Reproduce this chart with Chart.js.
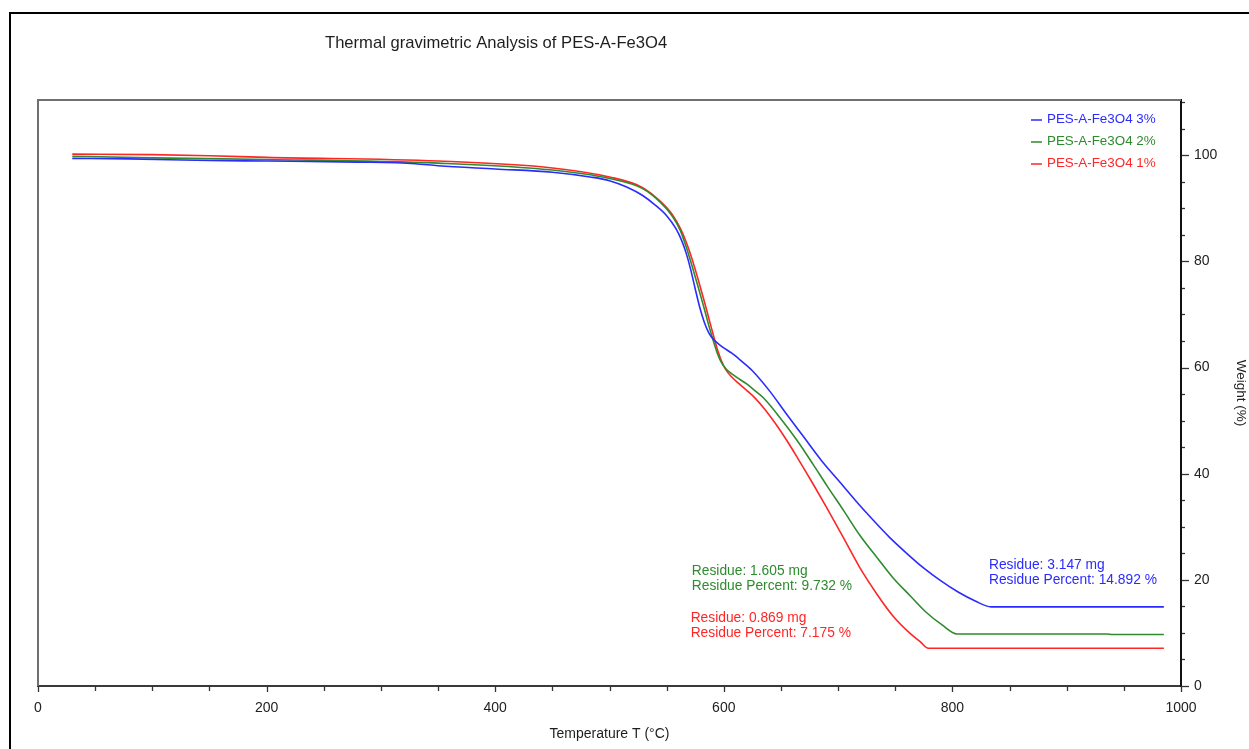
<!DOCTYPE html>
<html>
<head>
<meta charset="utf-8">
<script src="https://cdn.jsdelivr.net/npm/chart.js@4.4.1/dist/chart.umd.min.js"></script>
<style>
  html, body { margin: 0; padding: 0; background: #fff; }
  #wrap { width: 1249px; height: 749px; position: relative; }
</style>
</head>
<body>
<div id="wrap"><canvas id="tga"></canvas></div>
<script>
// --- Data ---
const tempBlue = [30, 80, 150, 200, 280, 330, 350, 400, 450, 483, 500, 515, 529, 540, 550, 558, 563, 567, 571, 575, 579, 583, 587, 591, 595, 600, 607, 615, 625, 640, 655, 670, 685, 700, 715, 730, 745, 760, 775, 790, 805, 820, 834, 900, 985];
const weightBlue = [99.4, 99.3, 99.0, 98.9, 98.7, 98.4, 98.0, 97.4, 96.8, 95.9, 95.2, 94.0, 92.4, 90.6, 88.6, 86.2, 84.0, 81.6, 78.5, 74.8, 71.3, 68.5, 66.5, 65.3, 64.5, 63.7, 62.7, 61.3, 59.4, 55.6, 51.2, 46.9, 42.6, 38.8, 35.0, 31.4, 28.0, 25.0, 22.2, 19.8, 17.7, 16.0, 14.9, 14.9, 14.9];

const tempGreen = [30, 100, 200, 350, 450, 500, 529, 545, 555, 562, 567, 572, 577, 582, 586, 590, 594, 598, 602, 607, 613, 620, 628, 635, 649, 664, 678, 690, 705, 719, 734, 748, 763, 777, 791, 804, 935, 940, 985];
const weightGreen = [99.8, 99.5, 99.2, 98.5, 97.2, 95.6, 93.7, 91.0, 88.5, 85.8, 82.8, 79.3, 75.6, 71.8, 68.6, 65.6, 62.9, 60.9, 59.7, 58.8, 57.9, 56.9, 55.5, 54.2, 50.6, 46.3, 41.8, 37.8, 33.0, 28.4, 24.2, 20.4, 17.0, 13.9, 11.5, 9.8, 9.8, 9.7, 9.7];

const tempRed = [30, 100, 150, 200, 350, 450, 500, 529, 545, 555, 562, 567, 572, 577, 582, 587, 591, 595, 598, 602, 607, 613, 620, 628, 636, 645, 655, 665, 678, 690, 705, 719, 734, 748, 763, 772, 779, 985];
const weightRed = [100.2, 100.1, 99.9, 99.6, 98.9, 97.6, 95.9, 93.9, 91.2, 88.8, 86.2, 83.7, 80.6, 77.0, 73.2, 69.2, 66.0, 63.0, 61.2, 59.5, 58.2, 57.0, 55.7, 54.1, 52.1, 49.5, 46.3, 42.8, 38.1, 33.6, 27.8, 22.3, 17.3, 13.2, 9.9, 8.3, 7.1, 7.1];

const seriesNames = ['PES-A-Fe3O4 3%', 'PES-A-Fe3O4 2%', 'PES-A-Fe3O4 1%'];
const seriesColors = ['#2b2bff', '#2e8b2e', '#ff2626'];

// residue notes: [series index, anchor temp, anchor weight, line1, line2]
const residueNotes = [
    [0, 832, 22.8, 'Residue: 3.147 mg', 'Residue Percent: 14.892 %'],
    [1, 572, 21.6, 'Residue: 1.605 mg', 'Residue Percent: 9.732 %'],
    [2, 571, 12.8, 'Residue: 0.869 mg', 'Residue Percent: 7.175 %']
];

const xMajorStep = 200;
const yMajorStep = 20;

const FONT = '"Liberation Sans", Arial, sans-serif';

function toPoints(xs, ys) {
    return xs.map((x, i) => ({ x: x, y: ys[i] }));
}

// --- Decorations: frame, title, ticks, legend, residue notes ---
const decorPlugin = {
    id: 'decor',
    afterDraw(chart) {
        const ctx = chart.ctx;
        const area = chart.chartArea;
        const xs = chart.scales.x;
        const ys = chart.scales.y;
        ctx.save();

        // outer box (runs off the right/bottom of the picture)
        ctx.strokeStyle = '#000';
        ctx.lineWidth = 2;
        ctx.beginPath();
        ctx.moveTo(10, 760);
        ctx.lineTo(10, 13);
        ctx.lineTo(1260, 13);
        ctx.stroke();

        // plot frame top + left
        ctx.strokeStyle = '#6f6f6f';
        ctx.lineWidth = 2;
        ctx.beginPath();
        ctx.moveTo(area.left, area.bottom);
        ctx.lineTo(area.left, area.top);
        ctx.lineTo(area.right, area.top);
        ctx.stroke();

        // title
        ctx.fillStyle = '#1e1e1e';
        ctx.font = '16.6px ' + FONT;
        ctx.textBaseline = 'middle';
        ctx.textAlign = 'left';
        ctx.fillText('Thermal gravimetric Analysis of PES-A-Fe3O4', 325, 43);

        // x ticks (every 50)
        ctx.strokeStyle = '#333';
        ctx.lineWidth = 1.3;
        for (let v = 0; v <= 1000; v += 50) {
            const px = Math.round(xs.getPixelForValue(v)) + 0.5;
            ctx.beginPath();
            ctx.moveTo(px, area.bottom);
            ctx.lineTo(px, area.bottom + (v % xMajorStep === 0 ? 6 : 5));
            ctx.stroke();
        }
        // y ticks (major dash every 20, small minor every 5)
        for (let v = 0; v <= 110; v += 5) {
            const py = Math.round(ys.getPixelForValue(v)) + 0.5;
            const major = v % yMajorStep === 0;
            ctx.beginPath();
            ctx.moveTo(area.right + 1, py);
            ctx.lineTo(area.right + (major ? 8 : 4), py);
            ctx.stroke();
        }

        // legend, top right inside plot
        ctx.font = '13.4px ' + FONT;
        chart.data.datasets.forEach((ds, i) => {
            const y = area.top + 19 + i * 22;
            ctx.strokeStyle = ds.borderColor;
            ctx.lineWidth = 1.5;
            ctx.beginPath();
            ctx.moveTo(area.right - 150, y + 1);
            ctx.lineTo(area.right - 139, y + 1);
            ctx.stroke();
            ctx.fillStyle = ds.borderColor;
            ctx.fillText(ds.label, area.right - 134, y);
        });

        // residue notes
        ctx.font = '13.8px ' + FONT;
        residueNotes.forEach(n => {
            const px = xs.getPixelForValue(n[1]);
            const py = ys.getPixelForValue(n[2]);
            ctx.fillStyle = seriesColors[n[0]];
            ctx.fillText(n[3], px, py);
            ctx.fillText(n[4], px, py + 15);
        });

        ctx.restore();
    }
};

const ctx = document.getElementById('tga').getContext('2d');

const tgaChart = new Chart(ctx, {
    type: 'line',
    data: {
        datasets: [
            { label: seriesNames[0], data: toPoints(tempBlue, weightBlue), borderColor: seriesColors[0] },
            { label: seriesNames[1], data: toPoints(tempGreen, weightGreen), borderColor: seriesColors[1] },
            { label: seriesNames[2], data: toPoints(tempRed, weightRed), borderColor: seriesColors[2] }
        ].map(ds => Object.assign(ds, {
            borderWidth: 1.6,
            pointRadius: 0,
            fill: false,
            cubicInterpolationMode: 'monotone'
        }))
    },
    options: {
        responsive: true,
        maintainAspectRatio: false,
        animation: false,
        layout: { padding: { left: 38, top: 100, right: 0, bottom: 0 } },
        plugins: {
            legend: { display: false },
            tooltip: { enabled: false }
        },
        scales: {
            x: {
                type: 'linear',
                position: 'bottom',
                min: 0,
                max: 1000,
                afterFit: (scale) => { scale.height = 63; },
                grid: { display: false },
                border: { display: true, color: '#3a3a3a', width: 2 },
                ticks: {
                    stepSize: 50,
                    autoSkip: false,
                    maxRotation: 0,
                    padding: 6,
                    color: '#222',
                    font: { family: FONT, size: 14 },
                    callback: (v) => (v % xMajorStep === 0 ? v : '')
                },
                title: {
                    display: true,
                    text: 'Temperature T (°C)',
                    color: '#1e1e1e',
                    font: { family: FONT, size: 14 },
                    padding: { top: 4, bottom: 6 }
                }
            },
            y: {
                type: 'linear',
                position: 'right',
                min: 0,
                max: 110.4,
                afterFit: (scale) => { scale.width = 68; },
                grid: { display: false },
                border: { display: true, color: '#111', width: 2 },
                ticks: {
                    stepSize: 5,
                    autoSkip: false,
                    padding: 5,
                    color: '#222',
                    font: { family: FONT, size: 14 },
                    callback: (v) => (v % yMajorStep === 0 ? v : '')
                },
                title: {
                    display: true,
                    text: 'Weight (%)',
                    color: '#1e1e1e',
                    font: { family: FONT, size: 13.5 },
                    padding: { top: 0, bottom: 4 }
                }
            }
        }
    },
    plugins: [decorPlugin]
});
</script>
</body>
</html>
